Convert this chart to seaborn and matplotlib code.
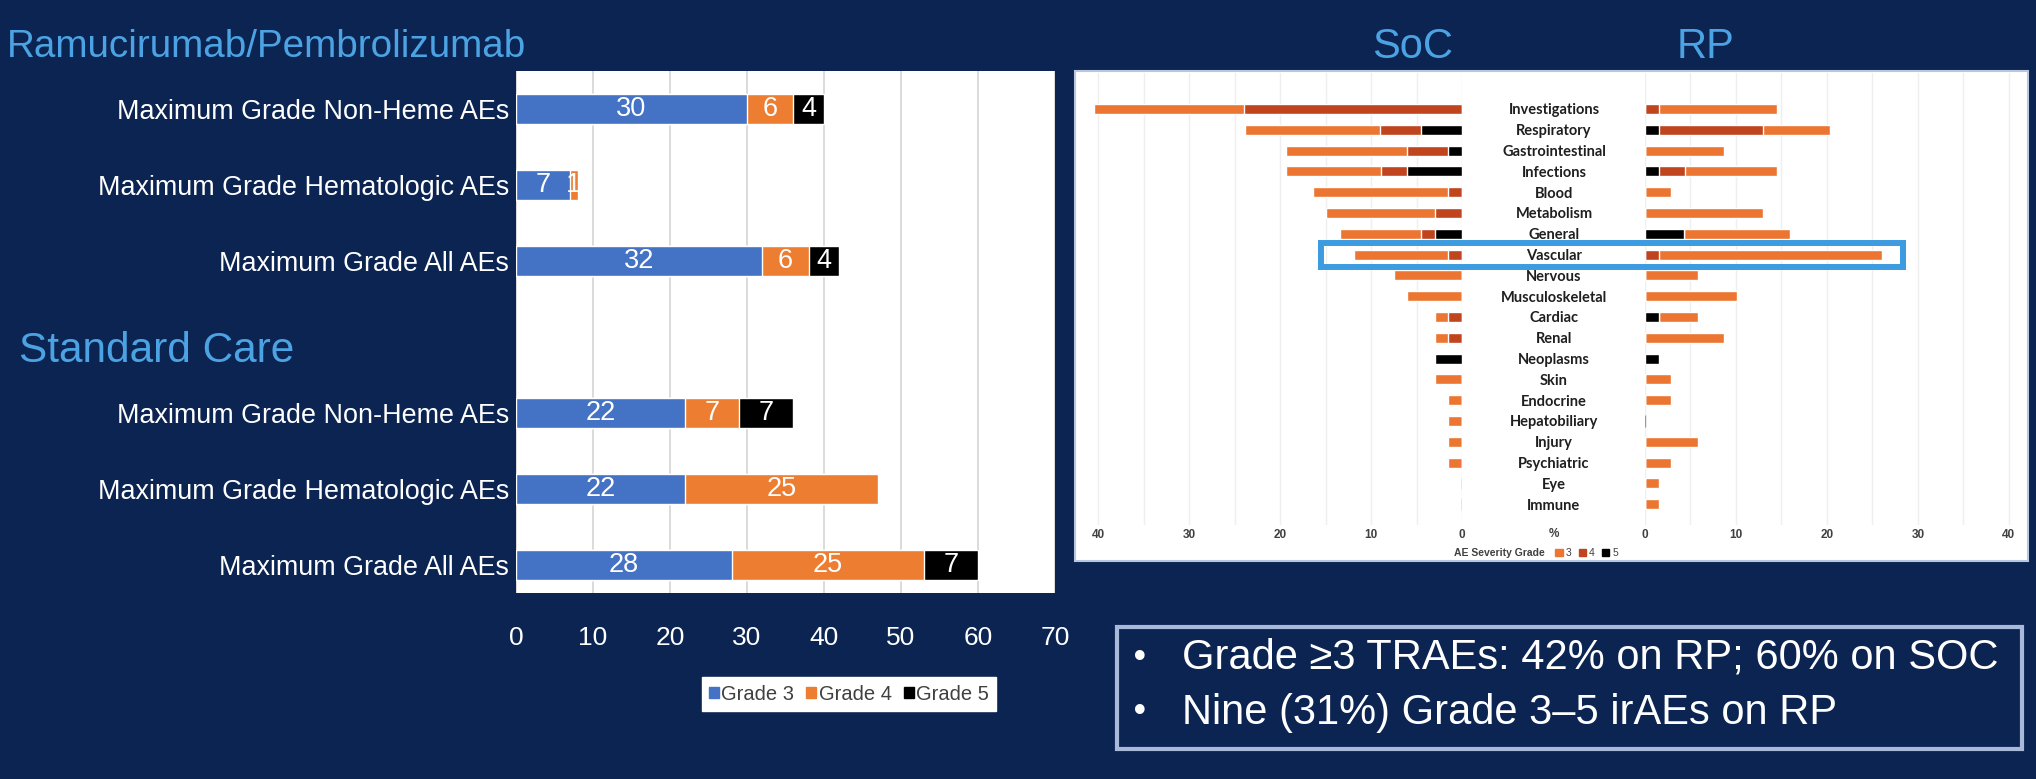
import numpy as np
import pandas as pd
import matplotlib
matplotlib.use("Agg")
import matplotlib.pyplot as plt
import seaborn as sns
from matplotlib import font_manager, transforms
from matplotlib.patches import Rectangle, Patch

# ---------------- left chart: maximum grade AEs (% of patients) ----------------
row_labels = ["Maximum Grade Non-Heme AEs", "Maximum Grade Hematologic AEs", "Maximum Grade All AEs"]
rp_grade3 = [30, 7, 32]
rp_grade4 = [6, 1, 6]
rp_grade5 = [4, 0, 4]
soc_grade3 = [22, 22, 28]
soc_grade4 = [7, 25, 25]
soc_grade5 = [7, 0, 7]
grade_names = ["Grade 3", "Grade 4", "Grade 5"]
left_ticks = [0, 10, 20, 30, 40, 50, 60, 70]

# ---------------- right chart: AEs by organ class (%) ----------------
organ_classes = ["Investigations", "Respiratory", "Gastrointestinal", "Infections", "Blood",
                 "Metabolism", "General", "Vascular", "Nervous", "Musculoskeletal", "Cardiac",
                 "Renal", "Neoplasms", "Skin", "Endocrine", "Hepatobiliary", "Injury",
                 "Psychiatric", "Eye", "Immune"]
soc_g3 = [16.5, 14.9, 13.4, 10.4, 14.9, 12.0, 8.9, 10.4, 7.5, 6.1, 1.5, 1.5, 0, 3.0, 1.5, 1.5, 1.5, 1.5, 0, 0]
soc_g4 = [24.0, 4.5, 4.5, 2.9, 1.5, 3.0, 1.5, 1.5, 0, 0, 1.5, 1.5, 0, 0, 0, 0, 0, 0, 0, 0]
soc_g5 = [0, 4.5, 1.5, 6.0, 0, 0, 3.0, 0, 0, 0, 0, 0, 3.0, 0, 0, 0, 0, 0, 0, 0]
rp_g3 = [13.0, 7.3, 8.7, 10.1, 2.9, 13.0, 11.6, 24.6, 5.8, 10.1, 4.3, 8.7, 0, 2.9, 2.9, 0, 5.8, 2.9, 1.5, 1.5]
rp_g4 = [1.5, 11.5, 0, 2.9, 0, 0, 0, 1.5, 0, 0, 0, 0, 0, 0, 0, 0, 0, 0, 0, 0]
rp_g5 = [0, 1.5, 0, 1.5, 0, 0, 4.3, 0, 0, 0, 1.5, 0, 1.5, 0, 0, 0, 0, 0, 0, 0]
severity_levels = ["3", "4", "5"]
right_ticks = [0, 10, 20, 30, 40]
highlight_class = "Vascular"

bullets = ["Grade \u22653 TRAEs: 42% on RP; 60% on SOC",
           "Nine (31%) Grade 3\u20135 irAEs on RP"]

# ---------------- style ----------------
NAVY = "#0b2452"
TITLE_BLUE = "#4ba3e3"
C3, C4, C5 = "#4472c4", "#ed7d31", "#000000"
R3, R4, R5 = "#ec7531", "#c0441e", "#000000"

sns.set_theme(style="white")
installed = {f.name for f in font_manager.fontManager.ttflist}
MAIN_FONT = "Liberation Sans" if "Liberation Sans" in installed else "DejaVu Sans"
LABEL_FONT = "Lato" if "Lato" in installed else "DejaVu Sans"
plt.rcParams["font.family"] = [MAIN_FONT, "DejaVu Sans"]

W, H = 2036, 779
fig = plt.figure(figsize=(W / 100, H / 100), dpi=100, facecolor=NAVY)


def frame(x0, y0, x1, y1):
    return [x0 / W, 1 - y1 / H, (x1 - x0) / W, (y1 - y0) / H]


# ================= left chart =================
left_keys = ["rp_nonheme", "rp_heme", "rp_all", "soc_nonheme", "soc_heme", "soc_all"]
slot_order = left_keys[:3] + ["spacer"] + left_keys[3:]
df_left = pd.DataFrame({
    "key": left_keys,
    "g3": rp_grade3 + soc_grade3,
    "g4": rp_grade4 + soc_grade4,
    "g5": rp_grade5 + soc_grade5,
})
df_left["g34"] = df_left["g3"] + df_left["g4"]
df_left["g345"] = df_left["g34"] + df_left["g5"]

axL = fig.add_axes(frame(516, 71, 1055, 593))
axL.set_facecolor("white")
axL.set_axisbelow(True)
for col, colour in [("g345", C5), ("g34", C4), ("g3", C3)]:
    sns.barplot(data=df_left, x=col, y="key", order=slot_order, orient="h", color=colour,
                saturation=1, width=0.39, errorbar=None, ax=axL)

for _, r in df_left.iterrows():
    pos = slot_order.index(r["key"])
    left = 0
    for v in (r["g3"], r["g4"], r["g5"]):
        if v > 0:
            axL.text(left + v / 2, pos, f"{v:g}", color="white", ha="center", va="center",
                     fontsize=19.5)
        left += v

axL.set_xlim(0, 70)
axL.set_ylim(len(slot_order) - 0.63, -0.5)
axL.set_xticks(left_ticks)
axL.set_xticklabels([str(t) for t in left_ticks], color="white", fontsize=19)
axL.set_yticks(range(len(slot_order)))
axL.set_yticklabels(row_labels + [""] + row_labels, color="white", fontsize=19.4)
axL.tick_params(axis="both", length=0)
axL.tick_params(axis="x", pad=24)
axL.tick_params(axis="y", pad=5)
axL.xaxis.grid(True, color="#d4d4d4", lw=1.2)
axL.yaxis.grid(False)
axL.set_xlabel("")
axL.set_ylabel("")
for s in axL.spines.values():
    s.set_visible(False)

fig.legend(handles=[Patch(color=c) for c in (C3, C4, C5)], labels=grade_names, ncol=3,
           loc="center", bbox_to_anchor=((718 + 980) / 2 / W, 1 - 694 / H), frameon=True,
           fancybox=False, framealpha=1, facecolor="white", edgecolor="white",
           fontsize=14.5, handlelength=0.5, handleheight=0.5, handletextpad=0.12,
           columnspacing=0.6, borderpad=0.35, labelcolor="#404040")

fig.text(7 / W, 1 - 47 / H, "Ramucirumab/Pembrolizumab", color=TITLE_BLUE, fontsize=27.8,
         ha="left", va="center")
fig.text(19 / W, 1 - 351 / H, "Standard Care", color=TITLE_BLUE, fontsize=30.5,
         ha="left", va="center")

# ================= right chart (butterfly) =================
fig.add_artist(Rectangle((1075 / W, 1 - 561 / H), (2028 - 1075) / W, (561 - 71) / H,
                         transform=fig.transFigure, facecolor="white", edgecolor="#b8c6de",
                         lw=1.5, zorder=-1))

df_right = pd.DataFrame({"organ": organ_classes,
                         "soc3": soc_g3, "soc4": soc_g4, "soc5": soc_g5,
                         "rp3": rp_g3, "rp4": rp_g4, "rp5": rp_g5})
for arm in ("soc", "rp"):
    df_right[f"{arm}_54"] = df_right[f"{arm}5"] + df_right[f"{arm}4"]
    df_right[f"{arm}_tot"] = df_right[f"{arm}_54"] + df_right[f"{arm}3"]

axS = fig.add_axes(frame(1089, 73, 1462, 525))
axR = fig.add_axes(frame(1645, 73, 2018, 525))
for ax, arm in ((axS, "soc"), (axR, "rp")):
    ax.set_facecolor("none")
    ax.set_axisbelow(True)
    for col, colour in [(f"{arm}_tot", R3), (f"{arm}_54", R4), (f"{arm}5", R5)]:
        sns.barplot(data=df_right, x=col, y="organ", order=organ_classes, orient="h",
                    color=colour, saturation=1, width=0.48, errorbar=None, ax=ax)
    empty = df_right.index[df_right[f"{arm}_tot"] == 0]
    ax.vlines(np.zeros(len(empty)), empty - 0.28, empty + 0.28, color="#9a9a9a", lw=1)
    ax.set_ylim(20.0, -1.73)
    ax.set_xticks(right_ticks)
    ax.set_xticks([5, 15, 25, 35], minor=True)
    ax.set_xticklabels([str(t) for t in right_ticks], fontsize=8.5, color="#404040",
                       fontweight="bold")
    ax.tick_params(axis="both", which="both", length=0)
    ax.tick_params(axis="x", pad=3)
    ax.xaxis.grid(True, which="both", color="#efefef", lw=1)
    ax.yaxis.grid(False)
    ax.set_xlabel("")
    ax.set_ylabel("")
    for s in ax.spines.values():
        s.set_visible(False)

axS.set_xlim(41, 0)
axR.set_xlim(0, 41)
axS.set_yticks([])
axR.set_yticks(range(len(organ_classes)))
axR.set_yticklabels(organ_classes, fontsize=10.5, fontweight="bold", color="#1f1f1f",
                    family=[LABEL_FONT, "DejaVu Sans"])
for lab in axR.get_yticklabels():
    lab.set_horizontalalignment("center")
axR.tick_params(axis="y", pad=(1645 - 1554) * 72 / 100)

fig.text(1554 / W, 1 - 534 / H, "%", fontsize=8.5, color="#404040", fontweight="bold",
         ha="center", va="center")

# row highlight, tied to the organ class row
hl = organ_classes.index(highlight_class)
band = transforms.blended_transform_factory(fig.transFigure, axR.transData)
fig.add_artist(Rectangle((1321 / W, hl - 0.58), (1903 - 1321) / W, 1.16, transform=band,
                         fill=False, edgecolor="#3d9be0", lw=4.3, zorder=6))

fig.text(1545 / W, 1 - 553 / H, "AE Severity Grade", fontsize=7.5, color="#404040",
         fontweight="bold", ha="right", va="center")
fig.legend(handles=[Patch(color=c) for c in (R3, R4, R5)], labels=severity_levels, ncol=3,
           loc="center left", bbox_to_anchor=(1549 / W, 1 - 553 / H), frameon=False,
           fontsize=7.5, handlelength=0.7, handleheight=0.7, handletextpad=0.3,
           columnspacing=0.7, labelcolor="#404040", borderpad=0.1)

fig.text(1413 / W, 1 - 47 / H, "SoC", color=TITLE_BLUE, fontsize=30, ha="center", va="center")
fig.text(1706 / W, 1 - 47 / H, "RP", color=TITLE_BLUE, fontsize=30, ha="center", va="center")

# ================= key points box =================
fig.add_artist(Rectangle((1117 / W, 1 - 749 / H), (2022 - 1117) / W, (749 - 627) / H,
                         transform=fig.transFigure, fill=False, edgecolor="#a9b9d9", lw=3))
for i, line in enumerate(bullets):
    y = 1 - (658 + 55 * i) / H
    fig.text(1140 / W, y, "\u2022", color="white", fontsize=24, ha="center", va="center",
             family=["DejaVu Sans"])
    fig.text(1182 / W, y, line, color="white", fontsize=30, ha="left", va="center")

fig.savefig("out.png", dpi=100, facecolor=NAVY)
